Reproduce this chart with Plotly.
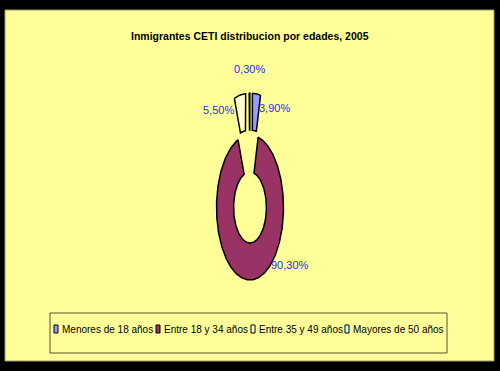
import numpy as np
import plotly.graph_objects as go

# ---- data ----
categories = ["Menores de 18 años", "Entre 18 y 34 años", "Entre 35 y 49 años", "Mayores de 50 años"]
values = [3.9, 90.3, 5.5, 0.3]
title_text = "Inmigrantes CETI distribucion por edades, 2005"

# ---- style ----
colors = ["#9999FF", "#993366", "#FFFFCC", "#CCFFFF"]
explode = [0.58, 0.0, 0.58, 0.58]
hole = 0.49
W, H = 500, 371
CX, CY, RX, RY = 250, 207.5, 33.5, 72.5   # donut centre / radii in px
label_shift = [(18, -14), (38, 15), (-21, -15), (0, 24)]  # px offsets (x right, y up)
FONT = "Liberation Sans, Arial, sans-serif"
label_color = "#2B2BF0"

fig = go.Figure()

total = sum(values)
start = 0.0
annotations = []
for i, (cat, v) in enumerate(zip(categories, values)):
    a0 = start / total * 2 * np.pi
    a1 = (start + v) / total * 2 * np.pi
    start += v
    mid = (a0 + a1) / 2
    ex, ey = explode[i] * np.sin(mid), explode[i] * np.cos(mid)
    n = max(4, int(v * 4))
    t = np.linspace(a0, a1, n)
    xs = np.concatenate([np.sin(t), hole * np.sin(t[::-1])]) + ex
    ys = np.concatenate([np.cos(t), hole * np.cos(t[::-1])]) + ey
    xs = np.append(xs, xs[0]); ys = np.append(ys, ys[0])
    fig.add_trace(go.Scatter(x=xs, y=ys, mode="lines", fill="toself",
                             fillcolor=colors[i], line=dict(color="black", width=1.5),
                             showlegend=False, hoverinfo="skip", name=cat))
    lx, ly = np.sin(mid) + ex, np.cos(mid) + ey
    annotations.append(dict(x=lx, y=ly, xref="x", yref="y", showarrow=False,
                            text=f"{v:.2f}%".replace(".", ","),
                            xshift=label_shift[i][0], yshift=label_shift[i][1],
                            font=dict(family=FONT, size=11, color=label_color)))

def px(x): return x / W
def py(y): return 1 - y / H

shapes = [
    dict(type="rect", xref="paper", yref="paper", x0=px(5), x1=px(494), y0=py(361), y1=py(10),
         fillcolor="#FFFF99", line=dict(color="#999966", width=1), layer="below"),
    dict(type="rect", xref="paper", yref="paper", x0=px(50), x1=px(447), y0=py(353), y1=py(313),
         fillcolor="rgba(0,0,0,0)", line=dict(color="#555533", width=1), layer="below"),
]

# custom legend
legend_text_x = [60, 162, 257, 351]
legend_y = 329
for i, cat in enumerate(categories):
    x0 = legend_text_x[i] - 6
    shapes.append(dict(type="rect", xref="paper", yref="paper", x0=px(x0), x1=px(x0 + 4),
                       y0=py(legend_y + 4), y1=py(legend_y - 4),
                       fillcolor=colors[i], line=dict(color="black", width=1)))
    annotations.append(dict(x=px(legend_text_x[i]), y=py(legend_y), xref="paper", yref="paper",
                            xanchor="left", yanchor="middle", showarrow=False, text=cat,
                            font=dict(family=FONT, size=10, color="black")))

annotations.append(dict(x=px(250), y=py(36), xref="paper", yref="paper", showarrow=False,
                        xanchor="center", yanchor="middle", text=f"<b>{title_text}</b>",
                        font=dict(family=FONT, size=10.5, color="black")))

fig.update_layout(
    width=W, height=H, margin=dict(l=0, r=0, t=0, b=0),
    paper_bgcolor="black", plot_bgcolor="rgba(0,0,0,0)",
    xaxis=dict(range=[(0 - CX) / RX, (W - CX) / RX], visible=False, fixedrange=True),
    yaxis=dict(range=[(CY - H) / RY, CY / RY], visible=False, fixedrange=True),
    shapes=shapes, annotations=annotations, showlegend=False,
)

fig.write_html("out.html", config={"displayModeBar": False})
with open("out.html", encoding="utf-8") as f:
    html = f.read()
html = html.replace("<head>", "<head><style>body{margin:0;padding:0;}</style>", 1)
with open("out.html", "w", encoding="utf-8") as f:
    f.write(html)
